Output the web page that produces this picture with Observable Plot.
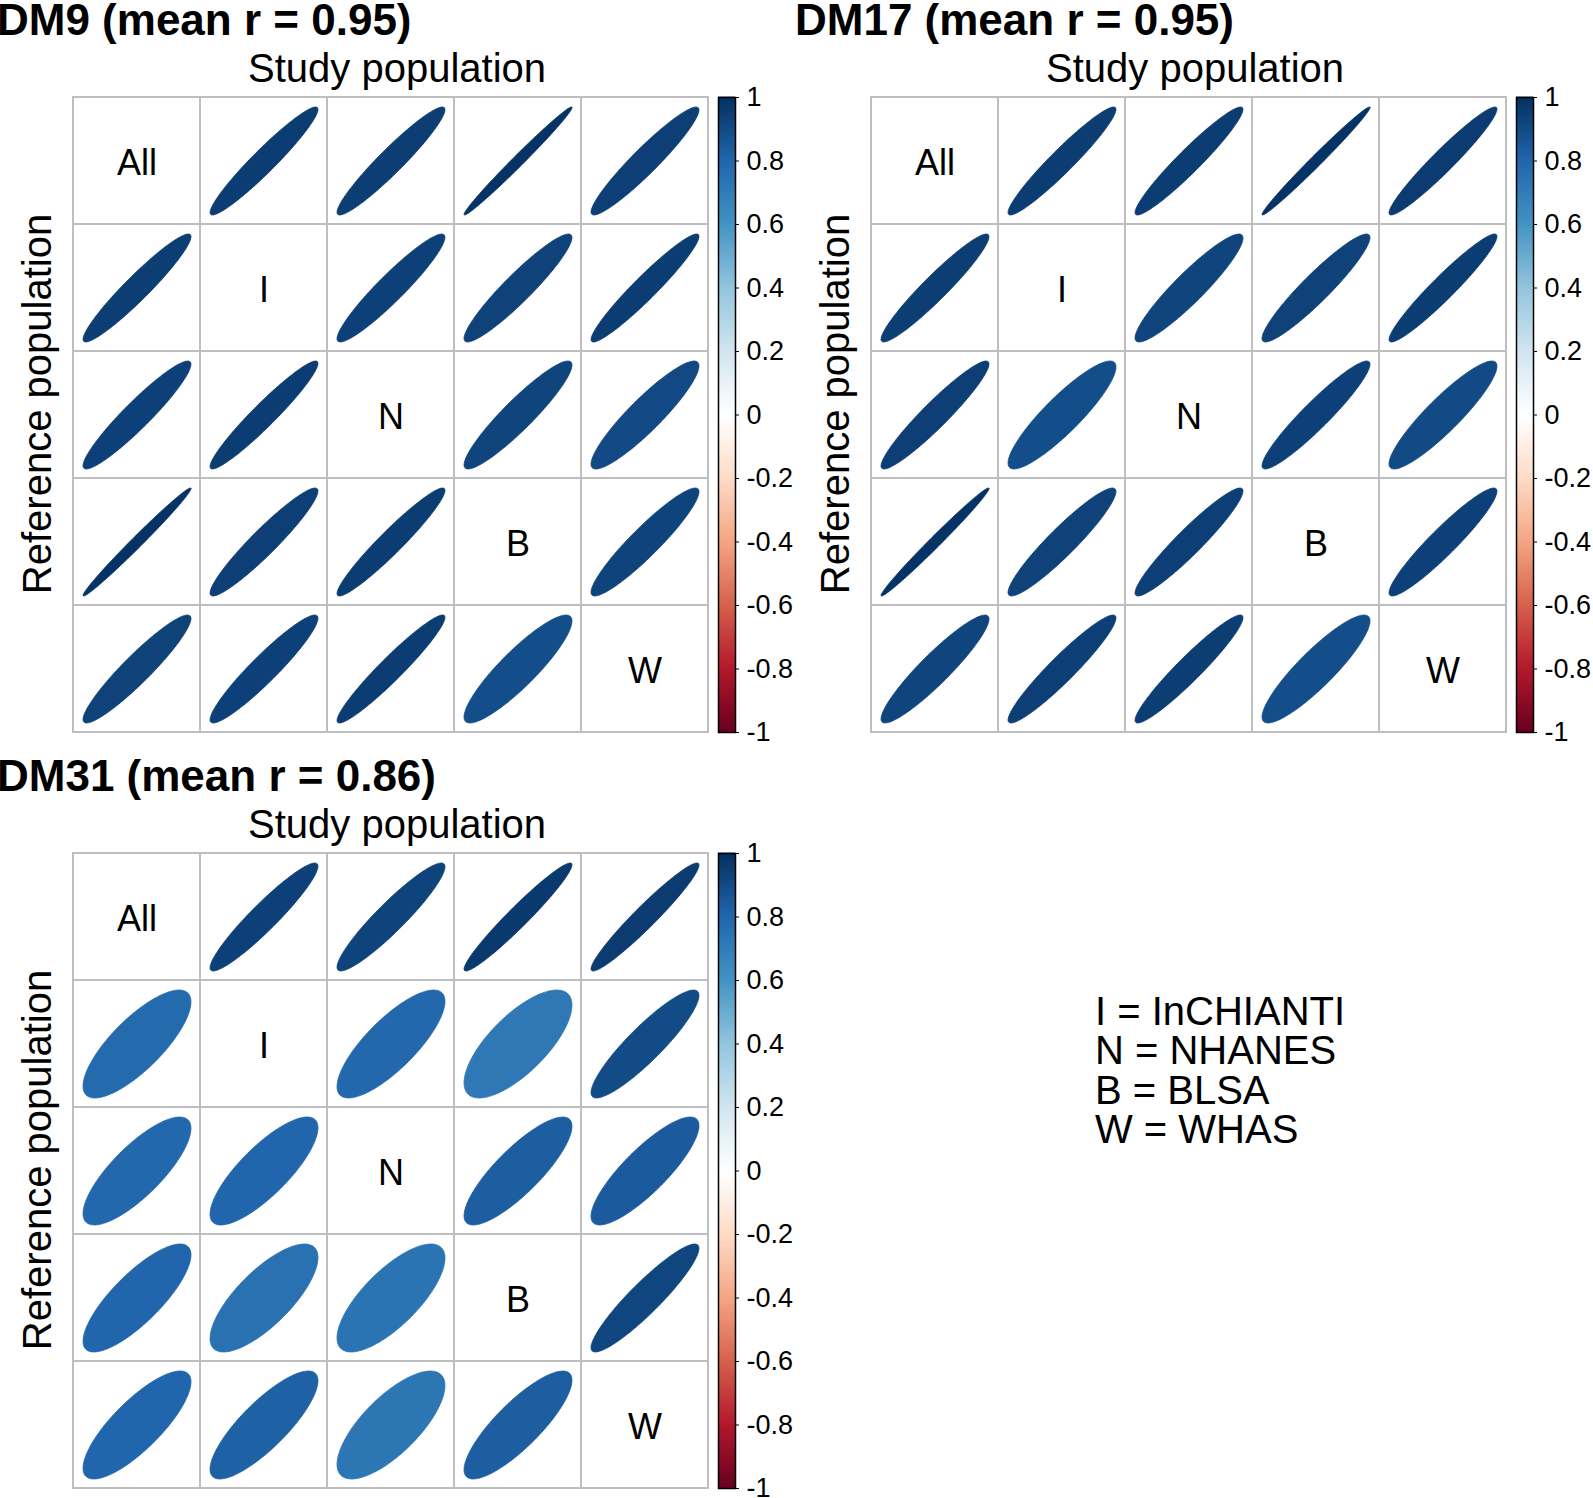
<!DOCTYPE html>
<html>
<head>
<meta charset="utf-8">
<script src="https://cdn.jsdelivr.net/npm/d3@7"></script>
<script src="https://cdn.jsdelivr.net/npm/@observablehq/plot@0.6"></script>
<style>
html, body { margin: 0; padding: 0; background: #fff; overflow: hidden; }
#page { position: relative; width: 1593px; height: 1498px; overflow: hidden; background: #fff;
        font-family: "Liberation Sans", Arial, sans-serif; color: #000; }
.abs { position: absolute; }
.title { font-weight: bold; font-size: 44px; line-height: 40px; white-space: nowrap; }
.legend { font-size: 40px; line-height: 39.4px; white-space: pre; }
</style>
</head>
<body>
<div id="page"></div>
<script>
// ---------------- data ----------------
const populations = ["All", "I", "N", "B", "W"];   // rows = reference, columns = study

const panelTitles = ["DM9 (mean r = 0.95)", "DM17 (mean r = 0.95)", "DM31 (mean r = 0.86)"];

// correlation matrices (row = reference population, column = study population)
const dm9 = [
  [1,     0.955, 0.95,  0.99,  0.945],
  [0.95,  1,     0.94,  0.935, 0.955],
  [0.94,  0.955, 1,     0.925, 0.91 ],
  [0.99,  0.945, 0.955, 1,     0.93 ],
  [0.935, 0.94,  0.955, 0.89,  1    ]
];
const dm17 = [
  [1,     0.955, 0.955, 0.99,  0.96 ],
  [0.95,  1,     0.925, 0.935, 0.955],
  [0.945, 0.89,  1,     0.94,  0.905],
  [0.99,  0.935, 0.945, 1,     0.94 ],
  [0.925, 0.945, 0.95,  0.89,  1    ]
];
const dm31 = [
  [1,    0.94, 0.93, 0.965, 0.96],
  [0.78, 1,    0.79, 0.72,  0.90],
  [0.79, 0.80, 1,    0.83,  0.84],
  [0.80, 0.75, 0.74, 1,     0.92],
  [0.80, 0.82, 0.73, 0.83,  1   ]
];

const legendLines = ["I = InCHIANTI", "N = NHANES", "B = BLSA", "W = WHAS"];

const colorbarTicks = [-1, -0.8, -0.6, -0.4, -0.2, 0, 0.2, 0.4, 0.6, 0.8, 1];
const rdbuStops  = [-1, -0.8, -0.6, -0.4, -0.2, 0, 0.2, 0.4, 0.6, 0.8, 1];
const rdbuColors = ["#67001F", "#B2182B", "#D6604D", "#F4A582", "#FDDBC7", "#FFFFFF",
                    "#D1E5F0", "#92C5DE", "#4393C3", "#2166AC", "#053061"];

// ---------------- drawing ----------------
const FONT = "Liberation Sans, Arial, sans-serif";
const colorScale = {type: "linear", domain: rdbuStops, range: rdbuColors, interpolate: "rgb"};
const svgStyle = {background: "transparent", overflow: "visible", maxWidth: "none", fontFamily: FONT};

function panelPlot(matrix) {
  const cells = [];
  const ellipses = [];
  populations.forEach((rowName, i) => {
    populations.forEach((colName, j) => {
      cells.push({row: i, col: j});
      if (i !== j) {
        const r = matrix[i][j];
        const d = Math.acos(r);
        const n = 120;
        for (let k = 0; k < n; k++) {
          const t = 2 * Math.PI * k / n;
          ellipses.push({
            id: i * 5 + j, r,
            x: j + 0.5 + 0.425 * Math.cos(t + d / 2),
            y: i + 0.5 - 0.425 * Math.cos(t - d / 2)
          });
        }
      }
    });
  });
  return Plot.plot({
    width: 712, height: 745,
    marginLeft: 73, marginRight: 4, marginTop: 97, marginBottom: 13,
    x: {domain: [0, 5], axis: null},
    y: {domain: [0, 5], reverse: true, axis: null},
    color: colorScale,
    style: svgStyle,
    marks: [
      Plot.line(ellipses, {x: "x", y: "y", z: "id", fill: "r", stroke: "r", strokeWidth: 0.8, curve: "linear-closed"}),
      Plot.rect(cells, {x1: "col", x2: d => d.col + 1, y1: "row", y2: d => d.row + 1,
                        fill: "none", stroke: "#BEBEBE", strokeWidth: 2}),
      Plot.text(populations, {x: (d, i) => i + 0.5, y: (d, i) => i + 0.5, text: d => d,
                              fontSize: 36, dy: 2, fill: "black"}),
      Plot.text(["Study population"], {text: d => d, frameAnchor: "top", lineAnchor: "bottom",
                                       textAnchor: "middle", dx: 6, dy: -16, fontSize: 40, fill: "black"}),
      Plot.text(["Reference population"], {text: d => d, frameAnchor: "left", rotate: -90,
                                           textAnchor: "middle", lineAnchor: "bottom",
                                           dx: -23, dy: -11, fontSize: 40, fill: "black"})
    ]
  });
}

function colorbarPlot(width) {
  const segs = d3.range(200).map(i => ({y1: -1 + i * 0.01, y2: -1 + (i + 1) * 0.01, v: -1 + (i + 0.5) * 0.01}));
  return Plot.plot({
    width: width, height: 745,
    marginLeft: 6, marginRight: width - 23, marginTop: 97, marginBottom: 13,
    x: {domain: [0, 1], axis: null},
    y: {domain: [-1, 1], label: null},
    color: colorScale,
    style: svgStyle,
    marks: [
      Plot.rect(segs, {x1: () => 0, x2: () => 1, y1: "y1", y2: "y2", fill: "v",
                       insetTop: -0.4, insetBottom: -0.4}),
      Plot.frame({stroke: "black", strokeWidth: 1.5}),
      Plot.axisY({ticks: colorbarTicks, anchor: "right", tickSize: 3, tickPadding: 8,
                  tickFormat: d => String(d), fontSize: 27, label: null, stroke: "black", fill: "black"})
    ]
  });
}

const page = document.getElementById("page");
function place(el, left, top) {
  const wrap = document.createElement("div");
  wrap.className = "abs";
  wrap.style.left = left + "px";
  wrap.style.top = top + "px";
  wrap.appendChild(el);
  page.appendChild(wrap);
  return wrap;
}

const panels = [
  {m: dm9,  title: panelTitles[0], dx: 0,   dy: 0,   cbw: 86},
  {m: dm17, title: panelTitles[1], dx: 798, dy: 0,   cbw: 83},
  {m: dm31, title: panelTitles[2], dx: 0,   dy: 756, cbw: 86}
];

panels.forEach(p => {
  place(panelPlot(p.m), p.dx, p.dy);
  place(colorbarPlot(p.cbw), p.dx + 712, p.dy);
  const t = document.createElement("div");
  t.className = "title";
  t.textContent = p.title;
  place(t, p.dx - 3, p.dy);
});

const leg = document.createElement("div");
leg.className = "legend";
leg.textContent = legendLines.join("\n");
place(leg, 1095, 992);
</script>
</body>
</html>
